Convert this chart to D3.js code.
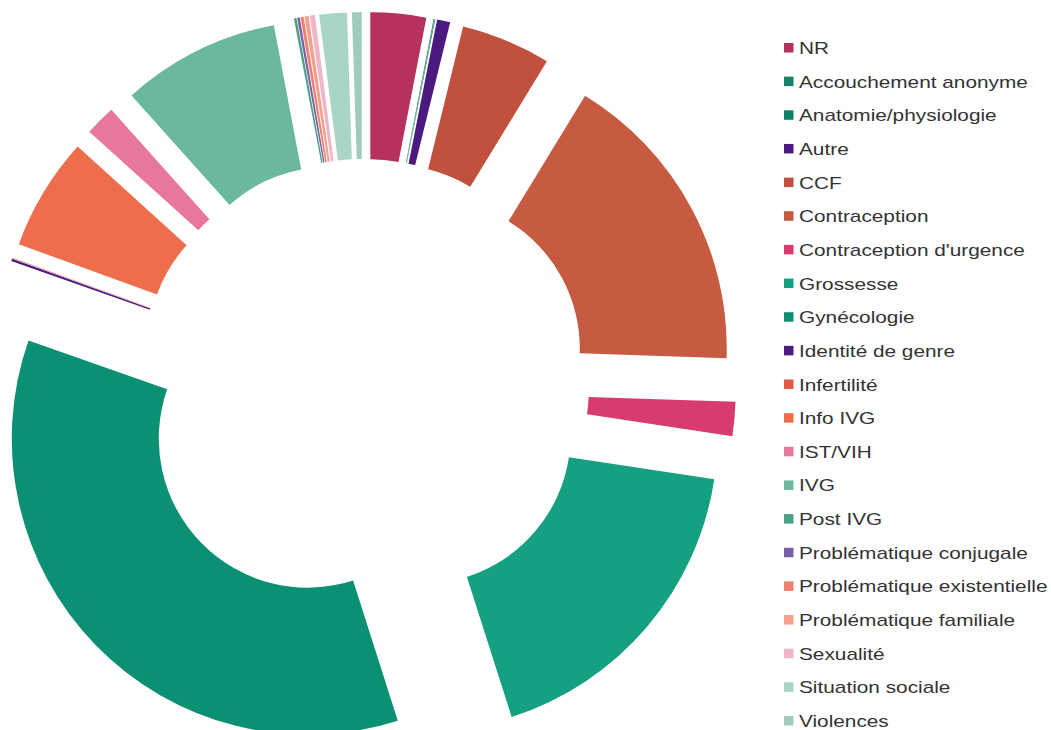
<!DOCTYPE html>
<html>
<head>
<meta charset="utf-8">
<script src="https://cdn.jsdelivr.net/npm/d3@7/dist/d3.min.js"></script>
<style>
  html, body { margin: 0; padding: 0; background: #fff; }
  svg { display: block; }
</style>
</head>
<body>
<script>
// categories, in drawing order (clockwise from 12 o'clock)
const categories = [
  'NR', 'Accouchement anonyme', 'Anatomie/physiologie', 'Autre', 'CCF',
  'Contraception', "Contraception d'urgence", 'Grossesse', 'Gynécologie',
  'Identité de genre', 'Infertilité', 'Info IVG', 'IST/VIH', 'IVG', 'Post IVG',
  'Problématique conjugale', 'Problématique existentielle', 'Problématique familiale',
  'Sexualité', 'Situation sociale', 'Violences'
];
// share of each category (%)
const shares = [
  3.03, 0.04, 0.04, 0.72, 4.9,
  16.8, 1.86, 17.7, 35.3,
  0.14, 0.03, 6.17, 1.67, 8.64, 0.14,
  0.14, 0.17, 0.22,
  0.28, 1.5, 0.53
];
const colors = [
  '#b6315f', '#17806a', '#108069', '#4a1a7e', '#c2503e',
  '#c75b41', '#d83b70', '#14a081', '#0c9073',
  '#4b1b82', '#e0584a', '#ee6e4c', '#e8779b', '#6bb8a0', '#4a9f86',
  '#7a5ea8', '#f07f6f', '#f6a08a',
  '#f0b5c6', '#a9d5c9', '#a0ccc0'
];

const width = 1051, height = 730;
const cx = 363, cy = 385;
const outerR = 296, innerR = 149, explode = 77;

const svg = d3.select('body').append('svg')
  .attr('width', width)
  .attr('height', height);

const data = categories.map((c, i) => ({ name: c, value: shares[i], color: colors[i] }));

const pie = d3.pie().sort(null).value((d) => d.value);
const arc = d3.arc().innerRadius(innerR).outerRadius(outerR);

const g = svg.append('g').attr('transform', 'translate(' + cx + ',' + cy + ')');

// every slice is pushed out along its own middle angle
g.selectAll('path')
  .data(pie(data))
  .join('path')
  .attr('d', arc)
  .attr('fill', (d) => d.data.color)
  .attr('transform', (d) => {
    const a = (d.startAngle + d.endAngle) / 2;
    return 'translate(' + explode * Math.sin(a) + ',' + -explode * Math.cos(a) + ')';
  });

// legend
const legend = svg.append('g').attr('transform', 'translate(784,48)');
const rows = legend.selectAll('g')
  .data(data)
  .join('g')
  .attr('transform', (d, i) => 'translate(0,' + i * 33.65 + ')');
rows.append('rect')
  .attr('x', 0).attr('y', -5)
  .attr('width', 9.5).attr('height', 9.5)
  .attr('fill', (d) => d.color);
rows.append('text')
  .attr('transform', 'translate(15,6) scale(1.3,1)')
  .attr('font-family', 'Liberation Sans, Arial, sans-serif')
  .attr('font-size', 16)
  .attr('fill', '#333')
  .text((d) => d.name);
</script>
</body>
</html>
